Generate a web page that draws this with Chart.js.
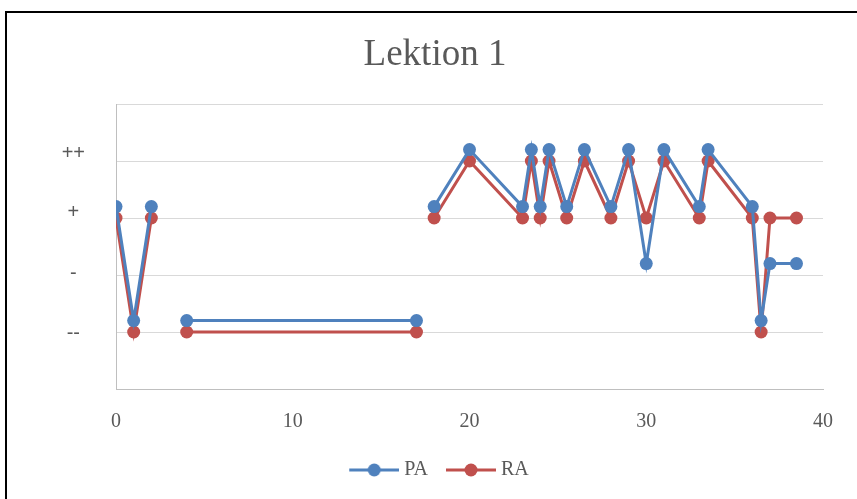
<!DOCTYPE html>
<html>
<head>
<meta charset="utf-8">
<script src="https://cdn.jsdelivr.net/npm/chart.js@4.4.0/dist/chart.umd.min.js"></script>
<style>
  html, body { margin: 0; padding: 0; background: #fff; overflow: hidden; }
  #frame {
    position: absolute; left: 5px; top: 11px; width: 870px; height: 510px;
    border-left: 2px solid #000; border-top: 2px solid #000;
  }
  #wrap { position: absolute; left: 0; top: 0; width: 857px; height: 499px; }
</style>
</head>
<body>
<div id="frame"></div>
<div id="wrap"><canvas id="chart" width="857" height="499"></canvas></div>
<script>
// Lektion 1 - PA / RA (null = Lücke in der Linie)
const xValues  = [0, 1, 2, 3, 4, 17, 17.5, 18, 20, 23, 23.5, 24, 24.5, 25.5, 26.5, 28, 29, 30, 31, 33, 33.5, 36, 36.5, 37, 38.5];
const paValues = [3.2, 1.2, 3.2, null, 1.2, 1.2, null, 3.2, 4.2, 3.2, 4.2, 3.2, 4.2, 3.2, 4.2, 3.2, 4.2, 2.2, 4.2, 3.2, 4.2, 3.2, 1.2, 2.2, 2.2];
const raValues = [3, 1, 3, null, 1, 1, null, 3, 4, 3, 4, 3, 4, 3, 4, 3, 4, 3, 4, 3, 4, 3, 1, 3, 3];
// Beschriftung der y-Achse (Textfeld im Original, leicht versetzt zu den Gitterlinien)
const yLabelText = ['--', '-', '+', '++'];
const yLabelPos  = [0.97, 2.03, 3.09, 4.14];
const xTicks     = [0, 10, 20, 30, 40];

const blue = '#4F81BD';
const red = '#C0504D';

// Legendensymbol: Linie mit Punkt (links transparenter Rand für den Abstand)
function legendIcon(color) {
    const c = document.createElement('canvas');
    c.width = 63; c.height = 14;
    const g = c.getContext('2d');
    g.strokeStyle = color; g.lineWidth = 3;
    g.beginPath(); g.moveTo(13, 7); g.lineTo(63, 7); g.stroke();
    g.fillStyle = color;
    g.beginPath(); g.arc(38, 7, 6.5, 0, Math.PI * 2); g.fill();
    return c;
}

function toPoints(values) {
    return xValues.map((x, i) => ({ x: x, y: values[i] }));
}

const serif = "'Liberation Serif', 'Times New Roman', serif";

const ctx = document.getElementById('chart').getContext('2d');
const chart = new Chart(ctx, {
    type: 'line',
    data: {
        datasets: [{
            label: 'PA',
            data: toPoints(paValues),
            borderColor: blue,
            backgroundColor: blue,
            borderWidth: 3,
            pointRadius: 6.5,
            pointHoverRadius: 6.5,
            pointBorderWidth: 0,
            spanGaps: false,
            tension: 0
        }, {
            label: 'RA',
            data: toPoints(raValues),
            borderColor: red,
            backgroundColor: red,
            borderWidth: 3,
            pointRadius: 6.5,
            pointHoverRadius: 6.5,
            pointBorderWidth: 0,
            spanGaps: false,
            tension: 0
        }]
    },
    options: {
        responsive: false,
        animation: false,
        layout: { padding: { left: 47, right: 34, top: 0, bottom: 9 } },
        plugins: {
            title: {
                display: true,
                text: 'Lektion 1',
                color: '#595959',
                font: { family: serif, size: 37, weight: 'normal' },
                padding: { top: 33, bottom: 26.6 }
            },
            legend: {
                position: 'bottom',
                labels: {
                    color: '#595959',
                    font: { family: serif, size: 20 },
                    usePointStyle: true,
                    pointStyleWidth: 53,
                    padding: 10,
                    generateLabels: (c) => c.data.datasets.map((ds, i) => ({
                        text: ds.label,
                        fontColor: '#595959',
                        pointStyle: legendIcon(ds.borderColor),
                        strokeStyle: 'transparent',
                        fillStyle: 'transparent',
                        lineWidth: 0,
                        datasetIndex: i
                    }))
                }
            },
            tooltip: { enabled: false }
        },
        scales: {
            x: {
                type: 'linear',
                min: 0,
                max: 40,
                afterBuildTicks: (scale) => { scale.ticks = xTicks.map(v => ({ value: v })); },
                grid: { display: false, drawTicks: false },
                border: { color: '#BFBFBF', width: 1 },
                ticks: {
                    color: '#595959',
                    font: { family: serif, size: 20 },
                    padding: 21
                },
                afterFit: (scale) => { scale.height = 61; }
            },
            y: {
                min: 0,
                max: 5,
                weight: 0,
                grid: { color: '#D9D9D9', lineWidth: 1, drawTicks: false },
                border: { color: '#BFBFBF', width: 1 },
                ticks: { stepSize: 1, display: false },
                afterFit: (scale) => { scale.width = 0; }
            },
            yl: {
                position: 'left',
                min: 0,
                max: 5,
                weight: 1,
                grid: { display: false, drawTicks: false },
                border: { display: false },
                afterBuildTicks: (scale) => { scale.ticks = yLabelPos.map(v => ({ value: v })); },
                ticks: {
                    color: '#595959',
                    font: { family: "'Liberation Sans', Arial, sans-serif", size: 20 },
                    crossAlign: 'center',
                    padding: 31,
                    callback: (v, i) => yLabelText[i]
                },
                afterFit: (scale) => { scale.width = 69; }
            }
        }
    }
});
</script>
</body>
</html>
